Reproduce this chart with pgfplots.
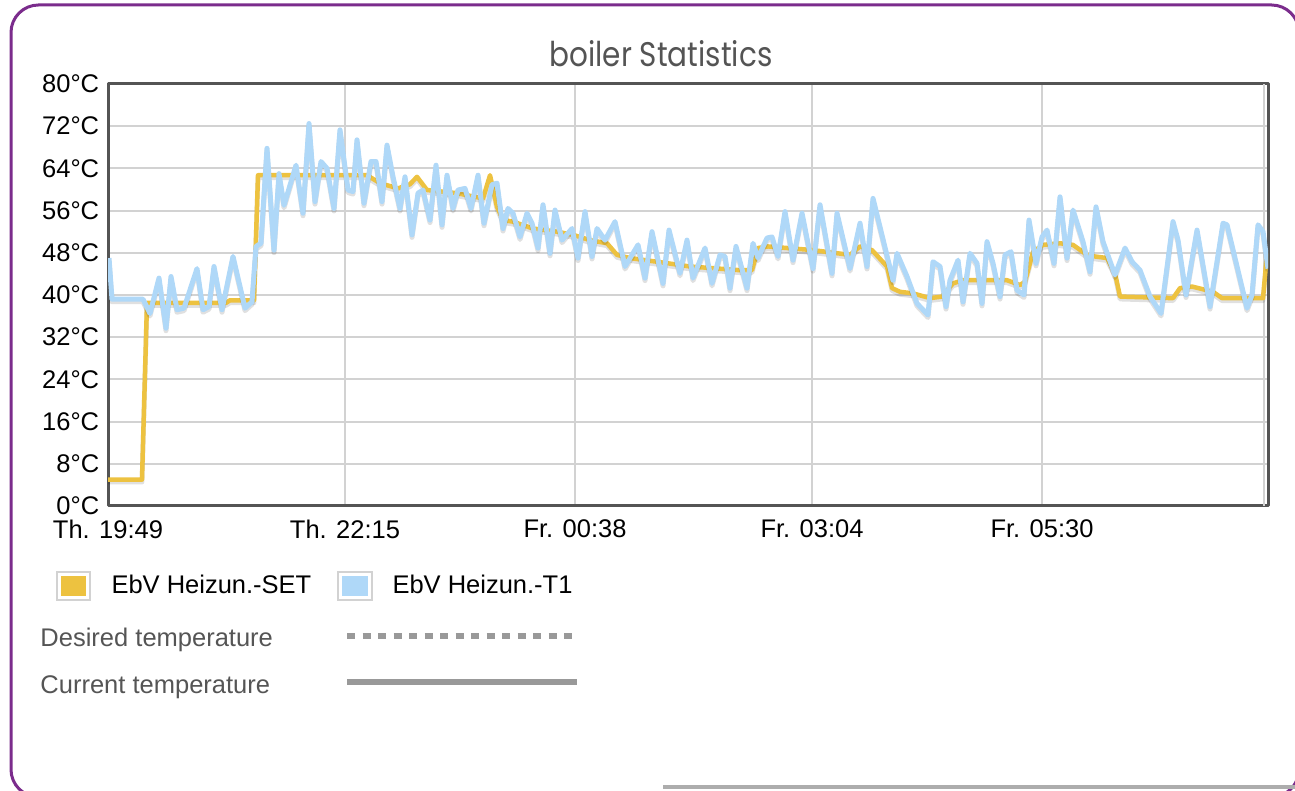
\documentclass[border=0pt]{standalone}
\usepackage{fontspec}
\setmainfont{Liberation Sans}
\newfontfamily\titlefont{Poppins}
\usepackage{graphicx}
\usepackage{pgfplots}
\usepackage{pgfplotstable}
\pgfplotsset{compat=1.18}
\definecolor{setc}{HTML}{EDC240}
\definecolor{tc}{HTML}{AFD8F8}
\definecolor{framec}{HTML}{545454}
\definecolor{gridc}{HTML}{D2D2D2}
\definecolor{purp}{HTML}{7B2C8C}
\definecolor{legtxt}{HTML}{555555}
\definecolor{legline}{HTML}{999999}

\pgfplotstableread{
x y
108 5
142 5
147 38.5
226 38.5
230 39
254 39
258 62.7
367 62.7
380 61.2
398 60.2
410 61
417 62.4
427 59.9
457 59.3
483 58.3
490 62.7
497 56.7
503 54.2
513 53.9
533 52.6
557 52
573 51.4
590 50.4
607 49.8
617 47.6
630 47
657 46.3
690 45.4
740 44.7
752 44.7
758 48.9
768 49.2
813 48.5
850 47.6
860 49.2
872 48.5
887 45.4
892 41.3
900 40.6
913 40.3
930 39.4
942 39.7
953 42.2
963 42.8
1007 42.8
1020 41.9
1025 42.5
1033 48.2
1043 49.5
1060 49.8
1073 49.5
1087 47.6
1095 47.3
1107 47
1115 44.1
1120 39.7
1173 39.4
1180 41.3
1192 41.6
1213 40.6
1222 39.4
1263 39.4
1267 47.9
}\setdata

\pgfplotstableread{
x y
109 47
112 39.2
143 39.2
150 36.5
159 43.2
166 33.7
171 43.5
177 37.2
184 37.5
197 45
203 37.2
209 37.8
214 45.4
222 37.2
233 47.3
245 37.5
252 38.7
256 49.2
261 49.8
267 67.8
274 48.5
279 63
284 57
296 64.6
303 55.5
309 72.5
315 57.7
321 65.3
327 64
334 56.4
340 71.3
348 59.9
353 59.6
357 69.4
364 57.4
371 65.3
376 65.3
382 57.7
387 68.4
393 62.4
400 56.4
405 62.4
412 51.4
418 59.3
423 59.9
430 54.2
436 64.6
442 53.3
447 62.7
453 56.4
458 59.9
465 60.2
471 56.4
478 62.7
484 53.6
492 60.9
497 61.2
503 52.6
508 56.4
513 55.5
520 51
527 55.5
532 53.6
538 48.9
543 57.1
550 47.9
555 56.1
562 50.4
572 52.6
578 47
585 55.8
592 47.3
597 52.6
605 50.4
615 53.9
625 45.4
638 49.5
645 43.2
652 52
663 42.2
669 52.3
680 44.1
687 50.4
693 43.2
705 48.9
712 42.2
720 47.6
725 47.3
730 41.3
736 49.2
747 41.3
753 49.8
758 47
767 50.8
772 51
778 47.3
785 55.8
793 46.6
802 55.5
813 45
820 57.1
832 44.1
837 55.5
850 45
860 53.6
867 45.4
873 58.3
893 42.8
897 47.9
907 43.5
917 38.4
928 36.2
933 46.3
940 45.4
946 37.8
950 42.8
958 46.6
963 38.7
970 47.9
977 46
982 38.4
987 50.1
993 46
1000 39.7
1005 47.6
1011 48.2
1017 40.9
1024 40
1029 54.2
1036 46
1042 51
1047 52.3
1054 46
1060 58.6
1067 47
1073 56.1
1083 50.1
1090 44.4
1096 56.7
1103 50.1
1115 43.8
1125 48.9
1132 46.3
1140 44.7
1150 39.7
1161 36.5
1173 53.9
1178 50.4
1186 40
1197 52.3
1210 37.8
1223 53.6
1227 53.3
1247 37.5
1252 40
1258 53.3
1263 52
1268 45
}\tdata

\begin{document}
\begin{tikzpicture}[x=0.4pt,y=0.4pt,every node/.style={font=\fontsize{10.2pt}{12pt}\selectfont}]
\path[use as bounding box] (0,0) rectangle (1295,791);
\begin{scope}
\clip (0,0) rectangle (1295,791);
\draw[purp, line width=1.2pt, rounded corners=11pt] (11,786) rectangle (1299,-6);
\end{scope}
\draw[legline!80, line width=1.6pt] (663,4) -- (1295,4);

\node[anchor=base, inner sep=0, text=framec] at (661,724) {\resizebox{89.2pt}{10.4pt}{\titlefont boiler Statistics}};

\begin{axis}[
  at={(43.2pt,114pt)}, anchor=south west,
  scale only axis, width=464pt, height=168.8pt,
  xmin=108, xmax=1268, ymin=0, ymax=80,
  axis line style={framec, line width=1.2pt},
  major tick length=0pt,
  xtick={108,345,575,812,1042},
  xticklabels={Th. 19:49, Th. 22:15, Fr. 00:38, Fr. 03:04, Fr. 05:30},
  extra x ticks={1264}, extra x tick labels={},
  extra x tick style={grid=major},
  ytick={0,8,16,24,32,40,48,56,64,72,80},
  yticklabels={0°C,8°C,16°C,24°C,32°C,40°C,48°C,56°C,64°C,72°C,80°C},
  grid=major,
  major grid style={gridc, line width=0.8pt},
  tick label style={font=\fontsize{10.2pt}{12pt}\selectfont, black},
  xticklabel style={yshift=-2pt},
  line join=round,
]
\addplot[black, opacity=0.12, line width=1.9pt, transform canvas={yshift=-1pt}, forget plot] table[x=x,y=y]{\setdata};
\addplot[setc, line width=1.8pt, line join=round] table[x=x,y=y]{\setdata};
\addplot[black, opacity=0.12, line width=2pt, transform canvas={yshift=-1pt}, forget plot] table[x=x,y=y]{\tdata};
\addplot[tc, line width=2pt, line join=round] table[x=x,y=y]{\tdata};
\end{axis}

% legend
\draw[gray!35, line width=0.5pt] (57,219) rectangle (90,191);
\fill[setc] (61,215) rectangle (86,195);
\node[anchor=base west, inner sep=0] at (111,197) {EbV Heizun.-SET};
\draw[gray!35, line width=0.5pt] (338,219) rectangle (372,191);
\fill[tc] (342,215) rectangle (368,195);
\node[anchor=base west, inner sep=0] at (392,197) {EbV Heizun.-T1};

\node[anchor=base west, inner sep=0, text=legtxt] at (40,144) {Desired temperature};
\node[anchor=base west, inner sep=0, text=legtxt] at (40,97) {Current temperature};
\draw[legline, line width=2.4pt, dash pattern=on 3.3pt off 2.9pt] (347,155) -- (577,155);
\draw[legline, line width=2.4pt] (347,109) -- (577,109);
\end{tikzpicture}
\end{document}
